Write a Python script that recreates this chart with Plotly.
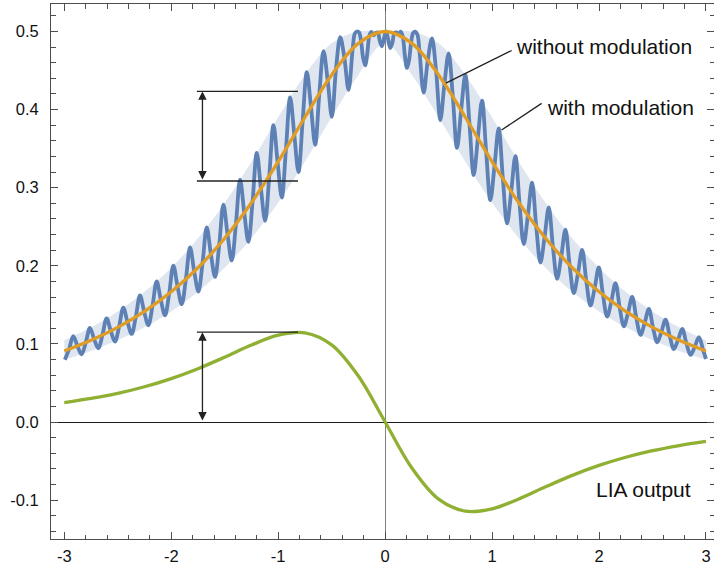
import plotly.graph_objects as go

# ---------------- data ----------------
grid_x = [-3.0, -2.75, -2.5, -2.25, -2.0, -1.75, -1.5, -1.25, -1.0, -0.75, -0.5, -0.25,
          0.0, 0.25, 0.5, 0.75, 1.0, 1.25, 1.5, 1.75, 2.0, 2.25, 2.5, 2.75, 3.0]

without_mod_y = [0.0909, 0.1046, 0.1212, 0.1416, 0.1667, 0.1975, 0.2353, 0.2807, 0.3333, 0.3902, 0.4444, 0.4848,
                 0.5000, 0.4848, 0.4444, 0.3902, 0.3333, 0.2807, 0.2353, 0.1975, 0.1667, 0.1416, 0.1212, 0.1046, 0.0909]

band_upper_y = [0.1046, 0.1212, 0.1416, 0.1667, 0.1975, 0.2353, 0.2807, 0.3333, 0.3902, 0.4444, 0.4848, 0.5000,
                0.5000, 0.5000, 0.4848, 0.4444, 0.3902, 0.3333, 0.2807, 0.2353, 0.1975, 0.1667, 0.1416, 0.1212, 0.1046]

band_lower_y = [0.0796, 0.0909, 0.1046, 0.1212, 0.1416, 0.1667, 0.1975, 0.2353, 0.2807, 0.3333, 0.3902, 0.4444,
                0.4848, 0.4444, 0.3902, 0.3333, 0.2807, 0.2353, 0.1975, 0.1667, 0.1416, 0.1212, 0.1046, 0.0909, 0.0796]

lia_y = [0.0248, 0.0301, 0.0367, 0.0451, 0.0556, 0.0683, 0.0830, 0.0985, 0.1111, 0.1142, 0.0988, 0.0588,
         0.0, -0.0588, -0.0988, -0.1142, -0.1111, -0.0985, -0.0830, -0.0683, -0.0556, -0.0451, -0.0367, -0.0301, -0.0248]

with_mod_x = [
    -2.994, -2.955, -2.916, -2.877, -2.838, -2.799, -2.760, -2.721, -2.682, -2.643,
    -2.604, -2.565, -2.526, -2.487, -2.448, -2.409, -2.370, -2.331, -2.292, -2.253,
    -2.214, -2.175, -2.136, -2.097, -2.058, -2.019, -1.980, -1.941, -1.902, -1.863,
    -1.824, -1.785, -1.746, -1.707, -1.668, -1.629, -1.590, -1.551, -1.512, -1.473,
    -1.434, -1.395, -1.356, -1.317, -1.278, -1.239, -1.200, -1.161, -1.122, -1.083,
    -1.044, -1.005, -0.966, -0.927, -0.888, -0.849, -0.810, -0.771, -0.732, -0.693,
    -0.654, -0.615, -0.576, -0.537, -0.498, -0.459, -0.420, -0.381, -0.342, -0.303,
    -0.2835, -0.264, -0.2445, -0.225, -0.2055, -0.186, -0.1665, -0.147, -0.1275, -0.108,
    -0.0885, -0.069, -0.0495, -0.030, -0.0105, 0.009, 0.0285, 0.048, 0.0675, 0.087,
    0.1065, 0.126, 0.1455, 0.165, 0.1845, 0.204, 0.2235, 0.243, 0.2625, 0.282, 0.3015,
    0.321, 0.360, 0.399, 0.438, 0.477, 0.516, 0.555, 0.594, 0.633, 0.672,
    0.711, 0.750, 0.789, 0.828, 0.867, 0.906, 0.945, 0.984, 1.023, 1.062,
    1.101, 1.140, 1.179, 1.218, 1.257, 1.296, 1.335, 1.374, 1.413, 1.452,
    1.491, 1.530, 1.569, 1.608, 1.647, 1.686, 1.725, 1.764, 1.803, 1.842,
    1.881, 1.920, 1.959, 1.998, 2.037, 2.076, 2.115, 2.154, 2.193, 2.232,
    2.271, 2.310, 2.349, 2.388, 2.427, 2.466, 2.505, 2.544, 2.583, 2.622,
    2.661, 2.700, 2.739, 2.778, 2.817, 2.856, 2.895, 2.934, 2.973, 3.000]

with_mod_y = [
    0.0798, 0.0932, 0.1098, 0.0973, 0.0867, 0.1017, 0.1205, 0.1063, 0.0944, 0.1113,
    0.1326, 0.1166, 0.1030, 0.1222, 0.1464, 0.1282, 0.1128, 0.1345, 0.1621, 0.1413,
    0.1239, 0.1486, 0.1800, 0.1563, 0.1365, 0.1646, 0.2003, 0.1734, 0.1508, 0.1828,
    0.2234, 0.1928, 0.1671, 0.2035, 0.2493, 0.2149, 0.1857, 0.2270, 0.2783, 0.2398,
    0.2068, 0.2534, 0.3103, 0.2678, 0.2307, 0.2829, 0.3445, 0.2987, 0.2576, 0.3152,
    0.3802, 0.3322, 0.2874, 0.3498, 0.4155, 0.3675, 0.3201, 0.3855, 0.4480, 0.4032,
    0.3550, 0.4205, 0.4748, 0.4370, 0.3907, 0.4523, 0.4929, 0.4662, 0.4254, 0.4781,
    0.4972, 0.5000, 0.4989, 0.4877, 0.4659, 0.4566, 0.4722, 0.4947, 0.4994, 0.4950,
    0.4981, 0.4988, 0.4875, 0.4811, 0.4914, 0.5000, 0.4897, 0.4787, 0.4855, 0.4981,
    0.4988, 0.4962, 0.4998, 0.4933, 0.4694, 0.4533, 0.4629, 0.4857, 0.4982, 0.4997, 0.4961,
    0.4755, 0.4216, 0.4631, 0.4913, 0.4489, 0.3866, 0.4333, 0.4721, 0.4165, 0.3509,
    0.3991, 0.4444, 0.3813, 0.3162, 0.3634, 0.4115, 0.3457, 0.2839, 0.3282, 0.3760,
    0.3113, 0.2543, 0.2950, 0.3405, 0.2793, 0.2278, 0.2644, 0.3064, 0.2502, 0.2042,
    0.2368, 0.2748, 0.2241, 0.1834, 0.2122, 0.2462, 0.2010, 0.1651, 0.1904, 0.2205,
    0.1806, 0.1491, 0.1713, 0.1978, 0.1626, 0.1349, 0.1545, 0.1778, 0.1469, 0.1225,
    0.1397, 0.1602, 0.1330, 0.1116, 0.1267, 0.1447, 0.1208, 0.1020, 0.1153, 0.1311,
    0.1101, 0.0934, 0.1052, 0.1192, 0.1006, 0.0859, 0.0963, 0.1087, 0.0923, 0.0808]

x_tick_vals = [-3, -2, -1, 0, 1, 2, 3]
x_tick_text = ["-3", "-2", "-1", "0", "1", "2", "3"]
y_tick_vals = [-0.1, 0.0, 0.1, 0.2, 0.3, 0.4, 0.5]
y_tick_text = ["-0.1", "0.0", "0.1", "0.2", "0.3", "0.4", "0.5"]

label_texts = ["without modulation", "with modulation", "LIA output"]
amp_top = 0.4233      # top of modulation band marker
amp_bottom = 0.3086   # bottom of modulation band marker
lia_peak = 0.115      # LIA output maximum

# ---------------- styles ----------------
BLUE = "#5E81B5"
ORANGE = "#E19C24"
GREEN = "#8FB032"
BAND = "rgba(94,129,181,0.20)"
INK = "#222222"
FRAME = "#4d4d4d"
FONT = "Liberation Sans, Arial, sans-serif"

fig = go.Figure()

fig.add_trace(go.Scatter(x=grid_x, y=band_lower_y, mode="lines",
                         line=dict(width=0, shape="spline"), hoverinfo="skip"))
fig.add_trace(go.Scatter(x=grid_x, y=band_upper_y, mode="lines", fill="tonexty",
                         fillcolor=BAND, line=dict(width=0, shape="spline"), hoverinfo="skip"))
fig.add_trace(go.Scatter(x=with_mod_x, y=with_mod_y, mode="lines",
                         line=dict(color=BLUE, width=3.8, shape="spline")))
fig.add_trace(go.Scatter(x=grid_x, y=without_mod_y, mode="lines",
                         line=dict(color=ORANGE, width=3.3, shape="spline")))
fig.add_trace(go.Scatter(x=grid_x, y=lia_y, mode="lines",
                         line=dict(color=GREEN, width=3.3, shape="spline")))

# marker lines
arrow_x = -1.708
line_x0, line_x1 = -1.76, -0.815
for yy in (amp_top, amp_bottom, lia_peak):
    fig.add_shape(type="line", x0=line_x0, x1=line_x1, y0=yy, y1=yy,
                  line=dict(color=INK, width=1.3))

for (y_a, y_b) in ((amp_top, amp_bottom), (lia_peak, 0.0)):
    fig.add_annotation(x=arrow_x, y=y_a, ax=arrow_x, ay=y_b, axref="x", ayref="y",
                       xref="x", yref="y", text="", showarrow=True,
                       arrowhead=2, startarrowhead=2, arrowside="end+start",
                       arrowsize=1.3, startarrowsize=1.3, arrowwidth=1.3, arrowcolor=INK)

# label pointers
fig.add_shape(type="line", x0=1.183, y0=0.4757, x1=0.568, y1=0.4339,
              line=dict(color=INK, width=1.3))
fig.add_shape(type="line", x0=1.463, y0=0.408, x1=1.089, y1=0.3739,
              line=dict(color=INK, width=1.3))

fig.add_annotation(x=1.204, y=0.4805, text=label_texts[0], showarrow=False,
                   xanchor="left", yanchor="middle", font=dict(size=21, family=FONT, color="#111"))
fig.add_annotation(x=1.494, y=0.403, text=label_texts[1], showarrow=False,
                   xanchor="left", yanchor="middle", font=dict(size=21, family=FONT, color="#111"))
fig.add_annotation(x=2.88, y=-0.0862, text=label_texts[2], showarrow=False,
                   xanchor="right", yanchor="middle", font=dict(size=21, family=FONT, color="#111"))

fig.update_layout(
    width=714, height=565,
    margin=dict(l=51, r=0, t=4, b=26),
    plot_bgcolor="white", paper_bgcolor="white",
    showlegend=False,
    font=dict(family=FONT, size=16.5, color="#111"),
)
fig.update_xaxes(
    range=[-3.124, 3.075], tickmode="array", tickvals=x_tick_vals, ticktext=x_tick_text,
    ticks="inside", ticklen=7, tickwidth=1, tickcolor=FRAME,
    showline=True, linecolor=FRAME, linewidth=1, mirror="ticks",
    minor=dict(tickmode="linear", tick0=0, dtick=0.2, ticks="inside", ticklen=4.5,
               tickcolor=FRAME, tickwidth=1),
    showgrid=False, zeroline=True, zerolinecolor="#808080", zerolinewidth=1,
    ticklabelstandoff=2,
)
fig.update_yaxes(
    range=[-0.1498, 0.5352], tickmode="array", tickvals=y_tick_vals, ticktext=y_tick_text,
    ticks="inside", ticklen=7, tickwidth=1, tickcolor=FRAME,
    showline=True, linecolor=FRAME, linewidth=1, mirror="ticks",
    minor=dict(tickmode="linear", tick0=0, dtick=0.02, ticks="inside", ticklen=4.5,
               tickcolor=FRAME, tickwidth=1),
    showgrid=False, zeroline=True, zerolinecolor="#1a1a1a", zerolinewidth=1,
    ticklabelstandoff=8,
)

fig.write_html("out.html", config={"displayModeBar": False},
               post_script="document.body.style.margin='0';")
